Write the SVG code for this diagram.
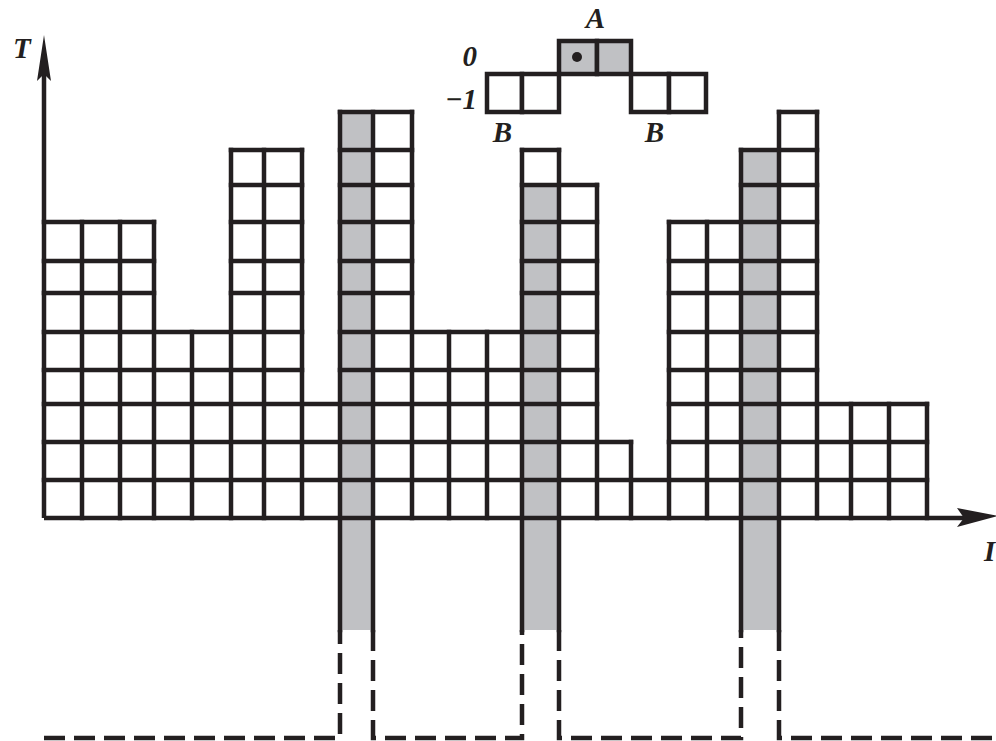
<svg xmlns="http://www.w3.org/2000/svg" width="996" height="741" viewBox="0 0 996 741">
  <style>
    .ln { fill: none; stroke: #231f20; stroke-width: 4.5; stroke-linecap: square; }
    .dash { fill: none; stroke: #231f20; stroke-width: 4.5; stroke-dasharray: 21 9; }
    .gray { fill: #c0c1c4; }
    .cell { fill: #ffffff; stroke: #231f20; stroke-width: 4.5; }
    .gcell { fill: #c0c1c4; stroke: #231f20; stroke-width: 4.5; }
    .lbl { font-family: "Liberation Serif", "DejaVu Serif", serif; font-style: italic; font-weight: bold; font-size: 29px; fill: #231f20; }
  </style>
  <rect width="996" height="741" fill="#ffffff"/>

  <g id="gray-columns">
    <rect class="gray" x="340" y="112" width="33" height="518"/>
    <rect class="gray" x="522" y="185" width="37" height="445"/>
    <rect class="gray" x="741" y="150" width="38" height="480"/>
  </g>

  <g id="grid">
    <path class="ln" d="M44 480 H927 M44 442 H631 M669 442 H927 M44 404 H597 M669 404 H927
      M44 370 H302 M340 370 H597 M669 370 H817
      M44 332 H302 M340 332 H597 M669 332 H817
      M44 293 H154 M231 293 H302 M340 293 H412 M522 293 H597 M669 293 H817
      M44 261 H154 M231 261 H302 M340 261 H412 M522 261 H597 M669 261 H817
      M44 222 H154 M231 222 H302 M340 222 H412 M522 222 H597 M669 222 H817
      M231 185 H302 M340 185 H412 M522 185 H597 M741 185 H817
      M231 150 H302 M340 150 H412 M522 150 H559 M741 150 H817
      M340 112 H412 M779 112 H817"/>
    <path class="ln" d="M82 518 V222 M120 518 V222 M154 518 V222 M192 518 V332
      M231 518 V150 M264 518 V150 M302 518 V150
      M340 630 V112 M373 630 V112 M412 518 V112
      M449 518 V332 M487 518 V332
      M522 630 V150 M559 630 V150 M597 518 V185 M631 518 V442
      M669 518 V222 M707 518 V222 M741 630 V150 M779 630 V112 M817 518 V112
      M851 518 V404 M889 518 V404 M927 518 V404"/>
  </g>

  <g id="axes">
    <path class="ln" d="M44 518 V60" style="stroke-linecap:butt"/>
    <path class="ln" d="M44 518 H965" style="stroke-linecap:butt"/>
    <polygon points="44,35 51,81 44,74 37,81" fill="#231f20"/>
    <polygon points="998,516 957,508 964,518 957,527" fill="#231f20"/>
  </g>

  <g id="dashed-outline">
    <path class="dash" d="M44 738 H340 V630"/>
    <path class="dash" d="M373 630 V738 H522 V630"/>
    <path class="dash" d="M559 630 V738 H741 V630"/>
    <path class="dash" d="M779 630 V738 H996"/>
  </g>

  <g id="structuring-element">
    <rect class="gcell" x="559" y="41" width="38" height="33"/>
    <rect class="gcell" x="597" y="41" width="34" height="33"/>
    <rect class="cell" x="487" y="74" width="35" height="38"/>
    <rect class="cell" x="522" y="74" width="37" height="38"/>
    <rect class="cell" x="631" y="74" width="38" height="38"/>
    <rect class="cell" x="669" y="74" width="37" height="38"/>
    <circle cx="577" cy="57" r="5" fill="#231f20"/>
  </g>

  <g id="labels">
    <text class="lbl" x="595.5" y="28" text-anchor="middle">A</text>
    <text class="lbl" x="477" y="66" text-anchor="end">0</text>
    <text class="lbl" x="477" y="109" text-anchor="end">−1</text>
    <text class="lbl" x="502.5" y="142" text-anchor="middle">B</text>
    <text class="lbl" x="654.5" y="142" text-anchor="middle">B</text>
    <text class="lbl" x="13" y="58">T</text>
    <text class="lbl" x="984" y="561">I</text>
  </g>
</svg>
